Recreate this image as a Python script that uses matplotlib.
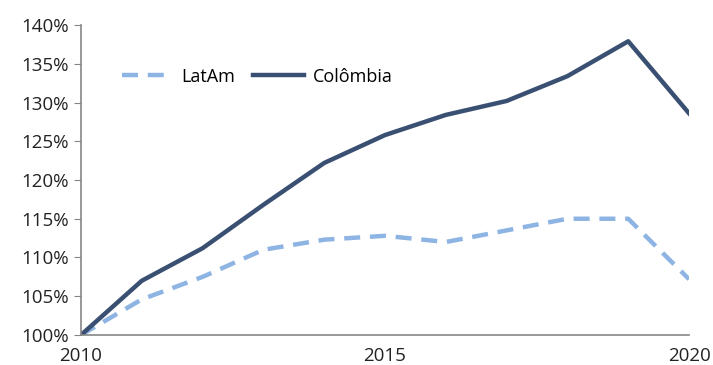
import numpy as np
import matplotlib.pyplot as plt
from matplotlib.ticker import FuncFormatter

years = np.arange(2010, 2021)
latam = [100.0, 104.6, 107.5, 111.0, 112.3, 112.8, 112.0, 113.5, 115.0, 115.0, 107.2]
colombia = [100.0, 107.0, 111.2, 116.8, 122.2, 125.8, 128.4, 130.2, 133.4, 137.9, 128.6]

plt.rcParams['font.family'] = ['Open Sans', 'DejaVu Sans']

fig = plt.figure(figsize=(7.13, 3.65), dpi=100)
ax = fig.add_axes([0.1136, 0.0822, 0.8528, 0.8493])

ax.plot(years, latam, color='#8db4e2', lw=3.2, dashes=(3.6, 2.2), label='LatAm')
ax.plot(years, colombia, color='#3a5072', lw=3.2, label='Colômbia')

ax.set_xlim(2010, 2020)
ax.set_ylim(100, 140)
ax.set_yticks(np.arange(100, 141, 5))
ax.set_xticks([2010, 2015, 2020])
ax.yaxis.set_major_formatter(FuncFormatter(lambda v, p: '%d%%' % v))

for s in ['top', 'right']:
    ax.spines[s].set_visible(False)
for s in ['left', 'bottom']:
    ax.spines[s].set_color('#868686')
    ax.spines[s].set_linewidth(1.2)
ax.tick_params(axis='y', length=5, color='#868686', labelsize=13.5, labelcolor='#222222')
ax.tick_params(axis='x', length=0, labelsize=13.5, labelcolor='#222222', pad=9)

ax.legend(loc='upper left', bbox_to_anchor=(0.04, 0.915), ncol=2, frameon=False,
          fontsize=13, handlelength=2.8, columnspacing=1.0, handletextpad=0.5)

fig.savefig('out.png', dpi=100)
